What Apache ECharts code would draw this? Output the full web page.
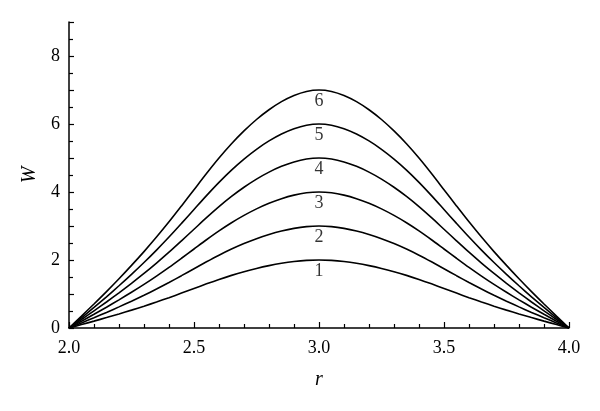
<!DOCTYPE html>
<html>
<head>
<meta charset="utf-8">
<script src="https://cdn.jsdelivr.net/npm/echarts@6/dist/echarts.min.js"></script>
<style>
html,body{margin:0;padding:0;background:#fff;}
#chart{width:600px;height:411px;}
</style>
</head>
<body>
<div id="chart"></div>
<script>
// r values (0.05 step)
var rValues = [2.00, 2.05, 2.10, 2.15, 2.20, 2.25, 2.30, 2.35, 2.40, 2.45, 2.50, 2.55, 2.60, 2.65, 2.70, 2.75, 2.80, 2.85, 2.90, 2.95, 3.00,
               3.05, 3.10, 3.15, 3.20, 3.25, 3.30, 3.35, 3.40, 3.45, 3.50, 3.55, 3.60, 3.65, 3.70, 3.75, 3.80, 3.85, 3.90, 3.95, 4.00];
// curve labels
var curveNames = ['1', '2', '3', '4', '5', '6'];
// W values
var w1 = [0, 0.100, 0.202, 0.306, 0.414, 0.526, 0.642, 0.764, 0.892, 1.026, 1.162, 1.298, 1.428, 1.548, 1.656, 1.752, 1.834, 1.902, 1.954, 1.988, 2.000,
          1.988, 1.954, 1.902, 1.834, 1.752, 1.656, 1.548, 1.428, 1.298, 1.162, 1.026, 0.892, 0.764, 0.642, 0.526, 0.414, 0.306, 0.202, 0.100, 0];
var w2 = [0, 0.150, 0.303, 0.459, 0.621, 0.789, 0.963, 1.146, 1.338, 1.539, 1.743, 1.947, 2.142, 2.322, 2.484, 2.628, 2.751, 2.853, 2.931, 2.982, 3.000,
          2.982, 2.931, 2.853, 2.751, 2.628, 2.484, 2.322, 2.142, 1.947, 1.743, 1.539, 1.338, 1.146, 0.963, 0.789, 0.621, 0.459, 0.303, 0.150, 0];
var w3 = [0, 0.200, 0.404, 0.612, 0.828, 1.052, 1.284, 1.528, 1.784, 2.052, 2.324, 2.596, 2.856, 3.096, 3.312, 3.504, 3.668, 3.804, 3.908, 3.976, 4.000,
          3.976, 3.908, 3.804, 3.668, 3.504, 3.312, 3.096, 2.856, 2.596, 2.324, 2.052, 1.784, 1.528, 1.284, 1.052, 0.828, 0.612, 0.404, 0.200, 0];
var w4 = [0, 0.250, 0.505, 0.765, 1.035, 1.315, 1.605, 1.910, 2.230, 2.565, 2.905, 3.245, 3.570, 3.870, 4.140, 4.380, 4.585, 4.755, 4.885, 4.970, 5.000,
          4.970, 4.885, 4.755, 4.585, 4.380, 4.140, 3.870, 3.570, 3.245, 2.905, 2.565, 2.230, 1.910, 1.605, 1.315, 1.035, 0.765, 0.505, 0.250, 0];
var w5 = [0, 0.300, 0.606, 0.918, 1.242, 1.578, 1.926, 2.292, 2.676, 3.078, 3.486, 3.894, 4.284, 4.644, 4.968, 5.256, 5.502, 5.706, 5.862, 5.964, 6.000,
          5.964, 5.862, 5.706, 5.502, 5.256, 4.968, 4.644, 4.284, 3.894, 3.486, 3.078, 2.676, 2.292, 1.926, 1.578, 1.242, 0.918, 0.606, 0.300, 0];
var w6 = [0, 0.350, 0.707, 1.071, 1.449, 1.841, 2.247, 2.674, 3.122, 3.591, 4.067, 4.543, 4.998, 5.418, 5.796, 6.132, 6.419, 6.657, 6.839, 6.958, 7.000,
          6.958, 6.839, 6.657, 6.419, 6.132, 5.796, 5.418, 4.998, 4.543, 4.067, 3.591, 3.122, 2.674, 2.247, 1.841, 1.449, 1.071, 0.707, 0.350, 0];
var allW = [w1, w2, w3, w4, w5, w6];
var labelAt = 3.0;

var FONT = '"Liberation Serif", "Times New Roman", serif';

var series = allW.map(function (ws, k) {
  return {
    type: 'line',
    name: curveNames[k],
    smooth: 0.25,
    symbol: 'none',
    silent: true,
    lineStyle: { color: '#000', width: 1.6 },
    data: rValues.map(function (r, i) { return [r, ws[i]]; })
  };
});

// curve number labels placed just under each curve at r = labelAt
var labelIdx = rValues.indexOf(labelAt);
series.push({
  type: 'scatter',
  silent: true,
  symbol: 'circle',
  symbolSize: 2,
  itemStyle: { color: 'rgba(0,0,0,0)' },
  label: {
    show: true,
    position: 'bottom',
    distance: 1,
    fontFamily: FONT,
    fontSize: 18,
    color: '#000',
    formatter: function (p) { return curveNames[p.dataIndex]; }
  },
  data: allW.map(function (ws) { return [labelAt, ws[labelIdx]]; })
});

var chart = echarts.init(document.getElementById('chart'), null, { renderer: 'canvas' });
chart.setOption({
  animation: false,
  backgroundColor: '#fff',
  grid: { left: 69, right: 31, top: 22, bottom: 83, containLabel: false },
  xAxis: {
    type: 'value',
    min: 2.0,
    max: 4.0,
    interval: 0.5,
    name: 'r',
    nameLocation: 'middle',
    nameGap: 42,
    nameTextStyle: { fontFamily: FONT, fontStyle: 'italic', fontSize: 20, color: '#000' },
    axisLine: { show: true, lineStyle: { color: '#000', width: 1.5 } },
    axisTick: { show: true, inside: true, length: 6, lineStyle: { color: '#000', width: 1.2 } },
    minorTick: { show: true, splitNumber: 5, length: 4, lineStyle: { color: '#000', width: 1.2 } },
    splitLine: { show: false },
    axisLabel: {
      margin: 11,
      fontFamily: FONT,
      fontSize: 18,
      color: '#000',
      formatter: function (v) { return v.toFixed(1); }
    }
  },
  yAxis: {
    type: 'value',
    min: 0,
    max: 9,
    interval: 1,
    name: 'W',
    nameLocation: 'middle',
    nameGap: 29,
    nameTextStyle: { fontFamily: FONT, fontStyle: 'italic', fontSize: 20, color: '#000' },
    axisLine: { show: true, lineStyle: { color: '#000', width: 1.5 } },
    axisTick: { show: true, inside: true, length: 5, lineStyle: { color: '#000', width: 1.2 } },
    minorTick: { show: true, splitNumber: 2, length: 4, lineStyle: { color: '#000', width: 1.2 } },
    splitLine: { show: false },
    axisLabel: {
      margin: 9,
      fontFamily: FONT,
      fontSize: 18,
      color: '#000',
      formatter: function (v) { return (v % 2 === 0 && v <= 8) ? String(v) : ''; }
    }
  },
  series: series
});
</script>
</body>
</html>
